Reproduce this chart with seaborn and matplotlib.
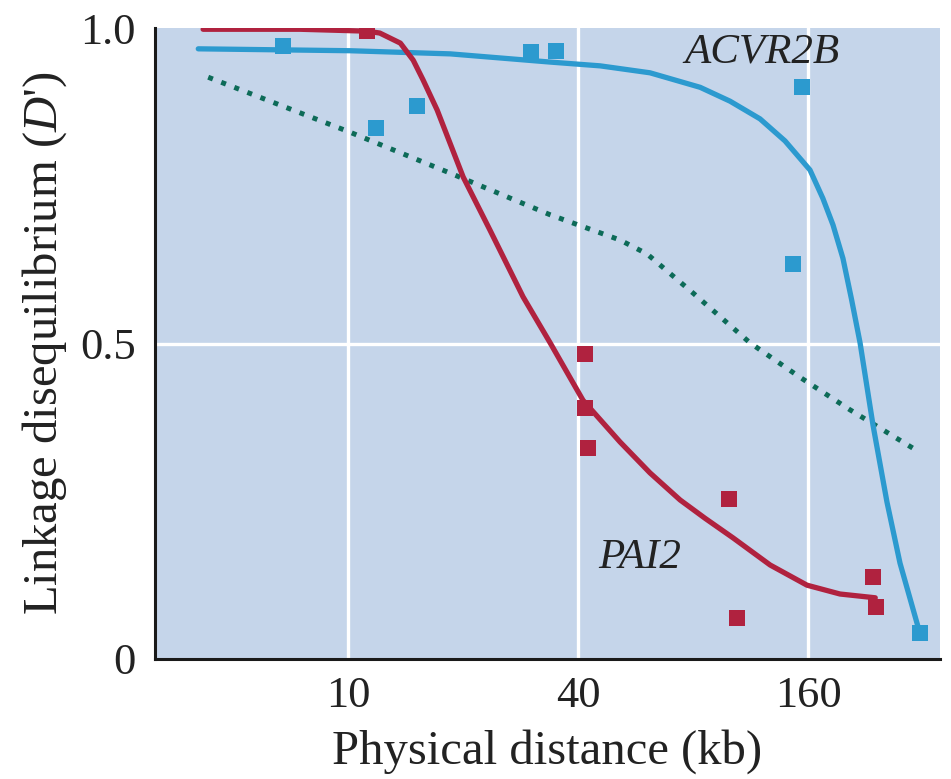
import matplotlib
matplotlib.use("Agg")
import matplotlib.pyplot as plt
import seaborn as sns
import pandas as pd
from matplotlib.ticker import FixedLocator, FixedFormatter, NullLocator

# Observed D' values per marker pair
acvr_x = [6.76, 11.8, 15.1, 30.1, 35.0, 154, 146, 314]
acvr_y = [0.971, 0.842, 0.876, 0.962, 0.964, 0.906, 0.626, 0.041]
pai_x = [11.2, 41.7, 41.7, 42.5, 99.4, 104, 237, 241]
pai_y = [0.995, 0.483, 0.398, 0.334, 0.254, 0.065, 0.130, 0.082]

# Fitted decay curves
acvr_fit_x = [4.05, 10.1, 18.5, 33.8, 45.7, 61.7, 83.5, 100, 119.8, 139.3, 161.9,
              175, 186, 197.5, 208, 219, 236.7, 257.5, 278.6, 314]
acvr_fit_y = [0.967, 0.964, 0.959, 0.946, 0.940, 0.929, 0.906, 0.884, 0.856, 0.821, 0.775,
              0.730, 0.688, 0.635, 0.570, 0.501, 0.371, 0.249, 0.152, 0.041]
pai_fit_x = [4.17, 7.49, 11.2, 12.1, 13.7, 14.8, 15.7, 17.1, 20.0, 23.5, 28.7, 33.8,
             41.2, 51.5, 61.7, 74.0, 86.0, 101.8, 127.3, 159, 194, 240]
pai_fit_y = [0.998, 0.998, 0.995, 0.992, 0.976, 0.949, 0.918, 0.870, 0.764, 0.680, 0.574, 0.501,
             0.410, 0.344, 0.295, 0.252, 0.223, 0.192, 0.149, 0.117, 0.103, 0.097]

# Genome-wide average decay
avg_x = [4.30, 10.1, 18.5, 33.8, 51.5, 60.6, 80.0, 112.8, 152, 206, 309]
avg_y = [0.922, 0.835, 0.770, 0.704, 0.664, 0.642, 0.580, 0.501, 0.447, 0.395, 0.330]

x_ticks = [10, 40, 160]
x_tick_labels = ["10", "40", "160"]
y_ticks = [0, 0.5, 1.0]
y_tick_labels = ["0", "0.5", "1.0"]

BLUE = "#2c9acf"
RED = "#b0223f"
GREEN = "#0d6b58"
BG = "#c5d5ea"
INK = "#222222"

sns.set_theme(style="white")
plt.rcParams["font.family"] = ["Liberation Serif", "DejaVu Serif"]
plt.rcParams["mathtext.fontset"] = "custom"
plt.rcParams["mathtext.it"] = "Liberation Serif:italic"
plt.rcParams["mathtext.rm"] = "Liberation Serif"

fig = plt.figure(figsize=(9.51, 7.79), dpi=100)
ax = fig.add_axes([155 / 951, 1 - 659 / 779, (940 - 155) / 951, (659 - 28) / 779])
ax.set_facecolor(BG)

ax.set_xscale("log", base=2)
ax.set_xlim(3.12, 354.6)
ax.set_ylim(0, 1.0)

for xv in x_ticks:
    ax.axvline(xv, color="white", lw=2.4, zorder=1)
ax.axhline(0.5, color="white", lw=2.4, zorder=1)

avg_df = pd.DataFrame({"x": avg_x, "y": avg_y})
sns.lineplot(data=avg_df, x="x", y="y", ax=ax, color=GREEN, lw=3.6,
             linestyle=(0, (1, 1.8)), dash_capstyle="butt", zorder=2, sort=False)

acvr_fit = pd.DataFrame({"x": acvr_fit_x, "y": acvr_fit_y})
pai_fit = pd.DataFrame({"x": pai_fit_x, "y": pai_fit_y})
sns.lineplot(data=acvr_fit, x="x", y="y", ax=ax, color=BLUE, lw=3.8, zorder=3, sort=False,
             solid_joinstyle="round")
sns.lineplot(data=pai_fit, x="x", y="y", ax=ax, color=RED, lw=3.8, zorder=3, sort=False,
             solid_joinstyle="round")

acvr_pts = pd.DataFrame({"x": acvr_x, "y": acvr_y})
pai_pts = pd.DataFrame({"x": pai_x, "y": pai_y})
sns.scatterplot(data=acvr_pts, x="x", y="y", ax=ax, color=BLUE, marker="s", s=120,
                linewidth=0, zorder=4)
sns.scatterplot(data=pai_pts, x="x", y="y", ax=ax, color=RED, marker="s", s=120,
                linewidth=0, zorder=4)

ax.text(121, 0.962, "ACVR2B", style="italic", fontsize=31, color=INK,
        ha="center", va="center")
ax.text(58, 0.160, "PAI2", style="italic", fontsize=31, color=INK,
        ha="center", va="center")

ax.xaxis.set_major_locator(FixedLocator(x_ticks))
ax.xaxis.set_major_formatter(FixedFormatter(x_tick_labels))
ax.xaxis.set_minor_locator(NullLocator())
ax.yaxis.set_major_locator(FixedLocator(y_ticks))
ax.yaxis.set_major_formatter(FixedFormatter(y_tick_labels))
ax.tick_params(axis="both", length=0, labelsize=32, colors=INK)
ax.tick_params(axis="x", pad=12)
ax.tick_params(axis="y", pad=14)
ax.grid(False)

for side in ["top", "right"]:
    ax.spines[side].set_visible(False)
for side in ["left", "bottom"]:
    ax.spines[side].set_color("#1a1a1a")
    ax.spines[side].set_linewidth(2.2)

ax.set_xlabel("Physical distance (kb)", fontsize=35, color=INK, labelpad=10)
ax.set_ylabel("Linkage disequilibrium ($D$')", fontsize=35, color=INK, labelpad=8)

fig.savefig("out.png", dpi=100, facecolor="white")
